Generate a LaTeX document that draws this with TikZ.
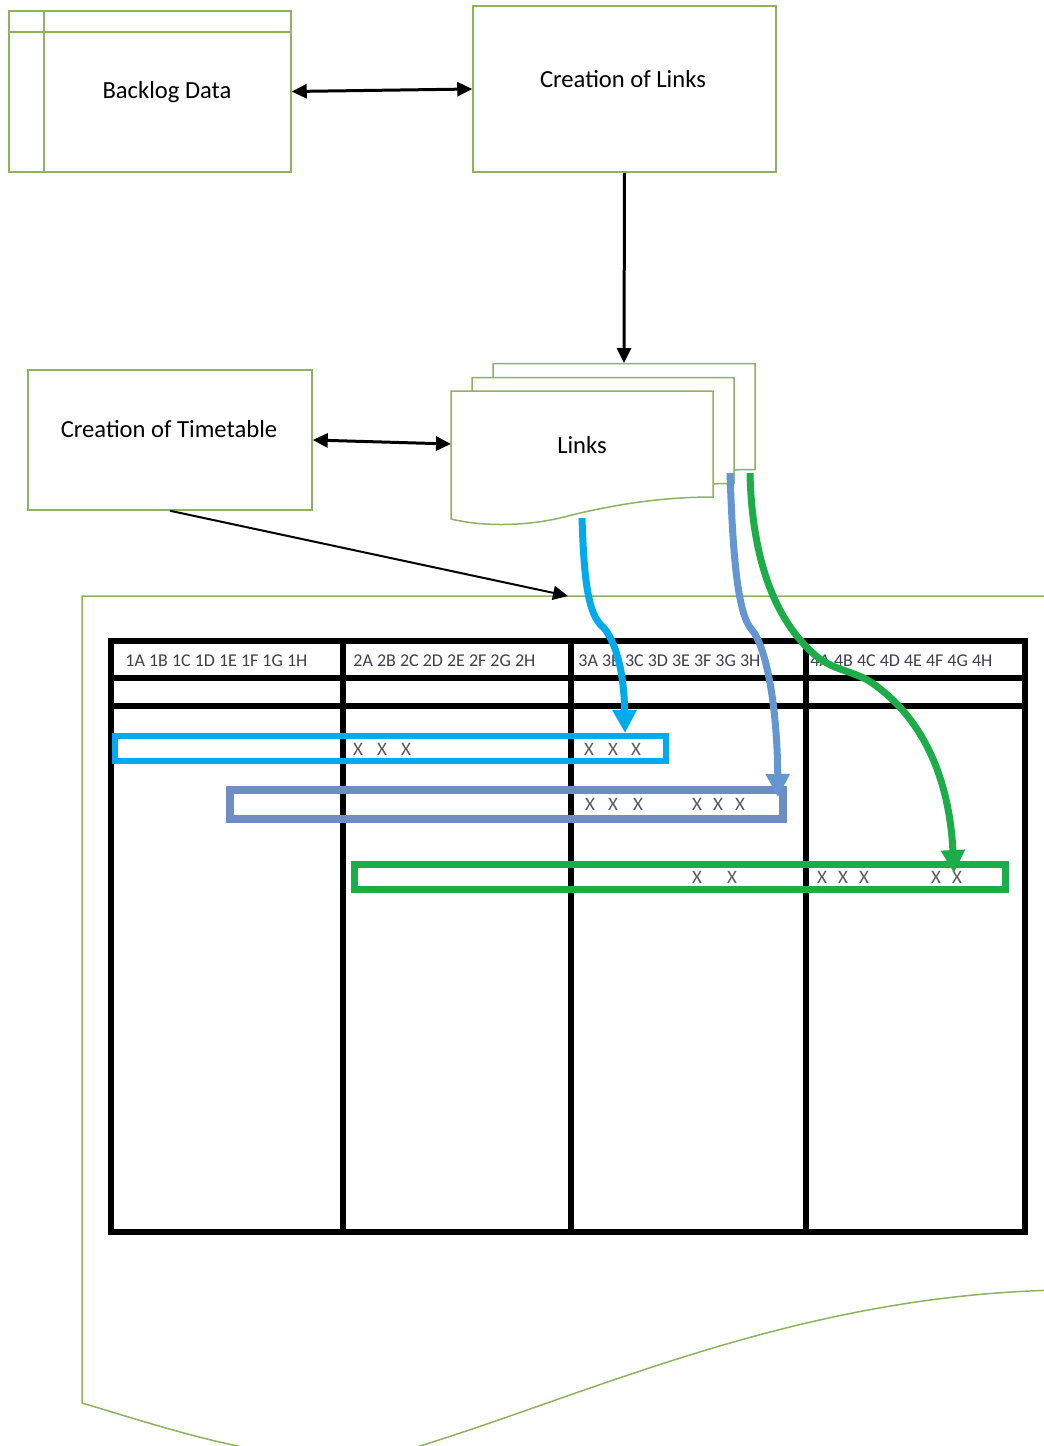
\documentclass[tikz,border=0pt]{standalone}
\usepackage{fontspec}
\setmainfont{Carlito}
\usetikzlibrary{arrows.meta}

\definecolor{outline}{RGB}{140,180,95}
\definecolor{rowblue}{RGB}{0,170,235}
\definecolor{rowsteel}{RGB}{108,142,196}
\definecolor{arrsteel}{RGB}{100,150,210}
\definecolor{rowgreen}{RGB}{28,172,72}
\definecolor{hdrtext}{RGB}{64,64,80}
\definecolor{xtext}{RGB}{90,90,90}

\tikzset{
  gline/.style={draw=outline, line width=0.75pt},
  gbox/.style={gline, rectangle, inner sep=0pt},
  lbl/.style={inner sep=0pt, font=\fontsize{12.3}{14}\selectfont},
  hdr/.style={inner sep=0pt, anchor=west, text=hdrtext, font=\fontsize{9}{10}\selectfont},
  xm/.style={inner sep=0pt, text=xtext, font=\fontsize{9.5}{10}\selectfont},
  blk/.style={draw=black, line width=1.5pt, line join=round},
  btip/.tip={Triangle[length=7.5pt, width=7pt]},
  tline/.style={draw=black, line width=3pt},
  ctip/.tip={Triangle[length=11.5pt, width=11.5pt]},
  carrow/.style={line width=3.5pt, -ctip},
}

\begin{document}
\begin{tikzpicture}[x=0.5pt, y=-0.5pt]
\useasboundingbox (0,0) rectangle (1044,1446);
\clip (0,0) rectangle (1044,1446);

% --- top row: data store and link creation ---
\node[gbox, minimum width=141pt, minimum height=80.5pt] (backlog) at (150,91.5) {};
\draw[gline] (9,32) -- (291,32);
\draw[gline] (44,11) -- (44,172);
\node[lbl] (backlogtxt) at (167,92) {Backlog Data};

\node[gbox, minimum width=151.5pt, minimum height=83pt] (creation) at (624.5,89) {};
\node[lbl] (creationtxt) at (623,79) {Creation of Links};

% --- timetable process ---
\node[gbox, minimum width=142pt, minimum height=70pt] (timetable) at (170,440) {};
\node[lbl] (timetabletxt) at (169,429) {Creation of Timetable};

% --- stacked documents: Links ---
\foreach \dx/\dy in {42/-27.5, 21/-13.5, 0/0} {
  \draw[gline, fill=white, shift={(\dx,\dy)}]
    (451,391) -- (713,391) -- (713,497)
    .. controls (660,497) and (610,505) .. (560,518)
    .. controls (520,527) and (480,526) .. (451,519) -- cycle;
}
\node[lbl] (links) at (582,445) {Links};
\coordinate (linksback) at (624,363);
\coordinate (linksfront) at (451,444);
\coordinate (linksbottom) at (582,518);
\coordinate (linksmid) at (730,473);
\coordinate (linksrear) at (750,473);

% --- timetable document ---
\draw[gline] (1060,596) -- (82,596) -- (82,1403)
  .. controls (190,1435) and (310,1478) .. (420,1446)
  .. controls (600,1390) and (800,1295) .. (1060,1290);
\coordinate (pagetop) at (568,596);

% grid of the timetable
\draw[tline] (111,641) rectangle (1025,1232);
\foreach \x in {343,571,806} \draw[tline] (\x,641) -- (\x,1232);
\foreach \y in {678,706} \draw[tline] (111,\y) -- (1025,\y);

\node[hdr] (h1) at (125,661) {1A 1B 1C 1D 1E 1F 1G 1H};
\node[hdr] (h2) at (353,661) {2A 2B 2C 2D 2E 2F 2G 2H};
\node[hdr] (h3) at (578,661) {3A 3B 3C 3D 3E 3F 3G 3H};
\node[hdr] (h4) at (810,661) {4A 4B 4C 4D 4E 4F 4G 4H};

% highlighted link rows
\draw[draw=rowblue, line width=2.8pt] (115,736) rectangle (666,761);
\draw[draw=rowsteel, line width=4pt] (230,790) rectangle (783,819);
\draw[draw=rowgreen, line width=3.5pt] (354,864) rectangle (1005,889);

\foreach \x [count=\i] in {358,382,406,589,613,636}
  \node[xm] (xa\i) at (\x,749) {X};
\foreach \x [count=\i] in {590,613,638,697,718,740}
  \node[xm] (xb\i) at (\x,804) {X};
\foreach \x [count=\i] in {697,732,822,843,864,936,957}
  \node[xm] (xc\i) at (\x,877) {X};

\coordinate (rowAtip) at (625,733);
\coordinate (rowBtip) at (778,797);
\coordinate (rowCtip) at (954,873);

% --- black connectors ---
\draw[blk, btip-btip] (backlog.east) -- (creation.west);
\draw[blk, -btip] (creation.south) -- (linksback);
\draw[blk, btip-btip] (timetable.east) -- (linksfront);
\draw[blk, line width=1pt, -btip] (timetable.south) -- (pagetop);

% --- coloured link arrows ---
\draw[carrow, rowblue] (linksbottom)
  .. controls (584,580) and (588,615) .. (603,627)
  .. controls (615,640) and (624,670) .. (rowAtip);
\draw[carrow, arrsteel] (linksmid)
  .. controls (733,560) and (738,615) .. (752,630)
  .. controls (765,645) and (777,700) .. (rowBtip);
\draw[carrow, rowgreen] (linksrear)
  .. controls (752,560) and (775,620) .. (815,655)
  .. controls (835,672) and (855,670) .. (875,685)
  .. controls (930,725) and (950,790) .. (rowCtip);
\end{tikzpicture}
\end{document}
